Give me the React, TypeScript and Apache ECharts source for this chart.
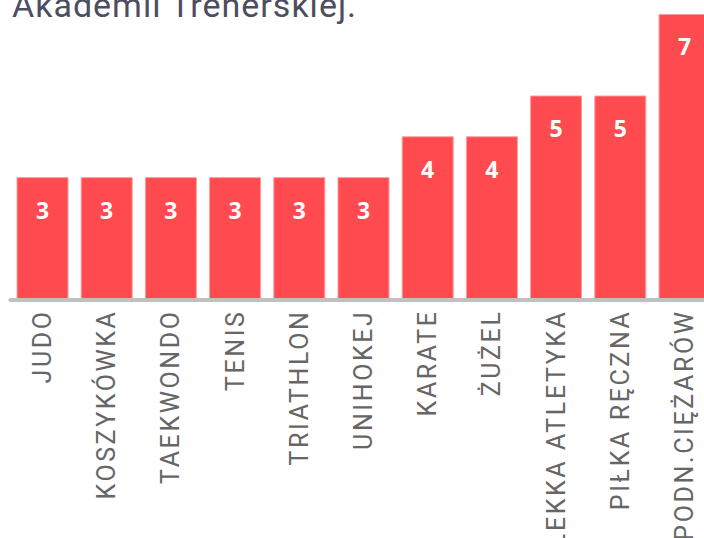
import React, { useEffect, useRef } from "react";
import * as echarts from "echarts";

const titleText = "Akademii Trenerskiej.";
const categories = [
  "JUDO",
  "KOSZYKÓWKA",
  "TAEKWONDO",
  "TENIS",
  "TRIATHLON",
  "UNIHOKEJ",
  "KARATE",
  "ŻUŻEL",
  "LEKKA ATLETYKA",
  "PIŁKA RĘCZNA",
  "PODN.CIĘŻARÓW",
];
const values = [3, 3, 3, 3, 3, 3, 4, 4, 5, 5, 7];

export default function App() {
  const ref = useRef<HTMLDivElement>(null);

  useEffect(() => {
    if (!ref.current) return;
    const chart = echarts.init(ref.current, null, { renderer: "svg" });
    chart.setOption({
      animation: false,
      backgroundColor: "#ffffff",
      title: {
        text: titleText,
        left: 12,
        top: -12,
        padding: 0,
        textStyle: {
          fontFamily: "Roboto, TtlLbl",
          fontSize: 34,
          fontWeight: "normal",
          color: "#4d4d5f",
        },
      },
      grid: {
        left: 10.4,
        right: 3.4,
        top: 13.9,
        bottom: 238.5,
        containLabel: false,
      },
      xAxis: {
        type: "category",
        data: categories,
        z: 5,
        axisLine: { show: true, lineStyle: { color: "#c0c0c0", width: 4 } },
        axisTick: { show: false },
        axisLabel: {
          interval: 0,
          rotate: 90,
          margin: 10,
          fontFamily: "Roboto, AxLbl",
          fontSize: 25,
          color: "#666666",
        },
      },
      yAxis: {
        type: "value",
        min: 0,
        max: 7,
        show: false,
        splitLine: { show: false },
      },
      series: [
        {
          type: "bar",
          data: values,
          barWidth: 52,
          itemStyle: {
            color: "#FF4A4F",
            borderColor: "#FF9C9E",
            borderWidth: 1,
          },
          label: {
            show: true,
            position: "insideTop",
            distance: 21,
            color: "#ffffff",
            fontFamily: "Open Sans",
            fontWeight: "bold",
            fontSize: 23,
          },
        },
      ],
    });
    return () => chart.dispose();
  }, []);

  return (
    <>
      <style>{`.chartbox text[style*="AxLbl"]{letter-spacing:2.6px}.chartbox text[style*="TtlLbl"]{letter-spacing:1px}`}</style>
      <div
        ref={ref}
        className="chartbox"
        style={{ position: "fixed", left: 0, top: 0, width: 720, height: 538, overflow: "hidden" }}
      />
    </>
  );
}
